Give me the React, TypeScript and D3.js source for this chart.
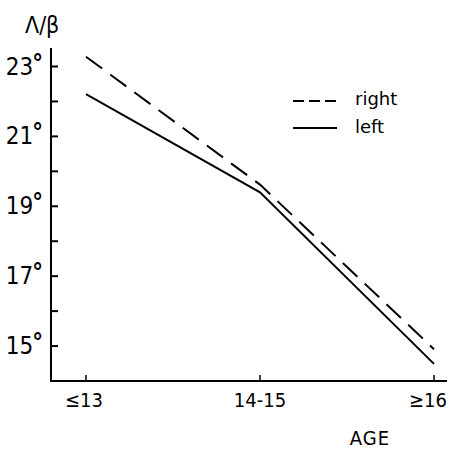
import React from 'react';
import * as d3 from 'd3';

// age groups on the x axis
const categories = ['≤13', '14-15', '≥16'];
// angle (degrees) per group
const rightValues = [23.28, 19.62, 14.91];
const leftValues = [22.21, 19.4, 14.49];
// y ticks, labels only on the odd ones
const yTicks = [15, 16, 17, 18, 19, 20, 21, 22, 23];
const yLabels = [15, 17, 19, 21, 23];

const W = 450;
const H = 450;
const axisX = 51;
const axisRight = 447;
const yTop = 23.53;

export default function App() {
  const xScale = d3.scalePoint<string>().domain(categories).range([86, 434]);
  const yScale = d3.scaleLinear().domain([14, 23]).range([381, 66.5]);

  const lineGen = d3.line<number>()
    .x((d, i) => xScale(categories[i]) as number)
    .y(d => yScale(d));

  const base = yScale(14);
  const numFont = '"DejaVu Sans Condensed", "DejaVu Sans", sans-serif';
  // label nudges so the last one stays inside the frame
  const labelShift = [-2, 0, -6];

  return (
    <svg width={W} height={H} style={{ position: 'absolute', left: 0, top: 0, background: '#fff' }}>
      {/* axes */}
      <line x1={axisX} y1={yScale(yTop)} x2={axisX} y2={base} stroke="#000" strokeWidth={2} />
      <line x1={axisX - 1} y1={base} x2={axisRight} y2={base} stroke="#000" strokeWidth={2} />

      {yTicks.map(t => (
        <line key={t} x1={axisX} x2={axisX + 7} y1={yScale(t)} y2={yScale(t)} stroke="#000" strokeWidth={2} />
      ))}
      {yLabels.map(t => (
        <text key={t} x={43} y={yScale(t) + 8} textAnchor="end" fontFamily={numFont} fontSize={24} fill="#000">
          <tspan>{t}</tspan>
          <tspan dx={-1} dy={-3} fontSize={24} fontWeight="bold">°</tspan>
        </text>
      ))}

      {categories.map((c, i) => (
        <g key={c}>
          <line x1={xScale(c)} x2={xScale(c)} y1={base} y2={base - 6} stroke="#000" strokeWidth={1.5} />
          <text x={(xScale(c) as number) + labelShift[i]} y={407} textAnchor="middle" fontFamily={numFont} fontSize={20} fill="#000">{c}</text>
        </g>
      ))}

      <text x={370} y={445} textAnchor="middle" fontFamily={numFont} fontSize={20} letterSpacing={1} fill="#000">AGE</text>
      <text x={25} y={33} fontFamily={numFont} fontSize={23} fill="#000">Λ/β</text>

      {/* data lines */}
      <path d={lineGen(rightValues) || ''} fill="none" stroke="#000" strokeWidth={2} strokeDasharray="20,10" />
      <path d={lineGen(leftValues) || ''} fill="none" stroke="#000" strokeWidth={2} />

      {/* legend */}
      <line x1={293} x2={337} y1={101} y2={101} stroke="#000" strokeWidth={2} strokeDasharray="11,5" />
      <line x1={293} x2={337} y1={128} y2={128} stroke="#000" strokeWidth={2} />
      <text x={355} y={105} fontFamily='"DejaVu Sans", sans-serif' fontSize={18} fill="#000">right</text>
      <text x={355} y={133} fontFamily='"DejaVu Sans", sans-serif' fontSize={18} fill="#000">left</text>
    </svg>
  );
}
